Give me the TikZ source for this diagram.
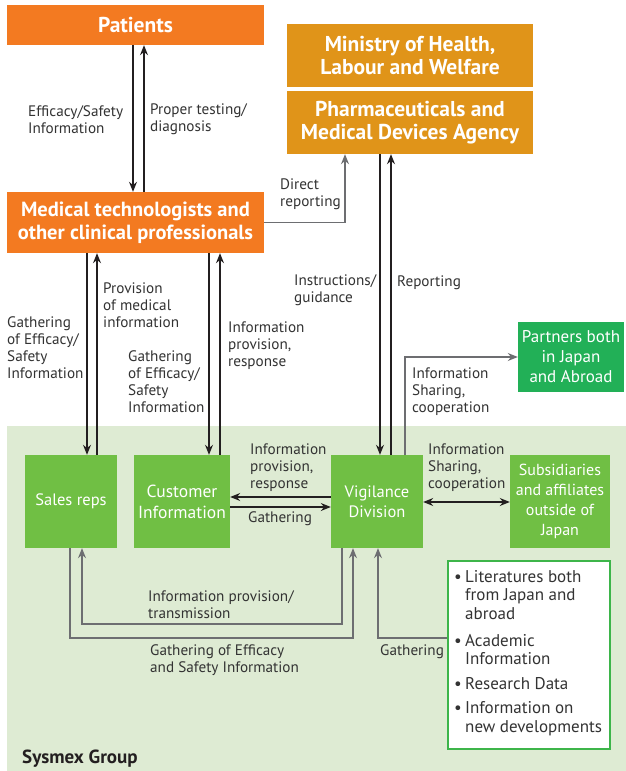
\documentclass[tikz,border=0pt]{standalone}
\usepackage{fontspec}
\setmainfont{PT Sans}
\usetikzlibrary{arrows.meta}
\definecolor{morange}{HTML}{F37A21}
\definecolor{mgold}{HTML}{E09419}
\definecolor{mgreen}{HTML}{70BF44}
\definecolor{pgreen}{HTML}{22B057}
\definecolor{bggreen}{HTML}{DEEBD3}
\definecolor{litborder}{HTML}{3DB54A}
\definecolor{tgray}{HTML}{333333}
\definecolor{ablack}{HTML}{231F20}
\definecolor{lgray}{HTML}{6D6E71}
\begin{document}
\begin{tikzpicture}[x=1pt,y=-1pt,
  titlebox/.style={text=white, font=\bfseries\fontsize{21.5}{23}\selectfont, inner sep=0pt, align=center},
  gbox/.style={fill=mgreen, text=white, font=\fontsize{16.5}{20}\selectfont, inner sep=0pt, align=center},
  lbl/.style={text=tgray, font=\fontsize{15.2}{17}\selectfont, align=left, inner sep=0pt, anchor=west},
  litlbl/.style={text=tgray, font=\fontsize{17}{18.5}\selectfont, align=left, inner sep=0pt, anchor=west},
  arr/.style={-{Stealth[length=10pt,width=8pt]}, line width=1.1pt, draw=ablack},
  garr/.style={-{Stealth[length=10pt,width=8pt]}, line width=1.1pt, draw=lgray},
  darr/.style={{Stealth[length=10pt,width=8pt]}-{Stealth[length=10pt,width=8pt]}, line width=1.1pt, draw=ablack}]
\useasboundingbox (0,0) rectangle (626,771);
\fill[white] (0,0) rectangle (626,771);
% background group
\node[fill=bggreen, minimum width=619pt, minimum height=345pt, inner sep=0pt] (grp) at (316.5,598.5) {};
% top boxes
\node[titlebox, fill=morange, minimum width=257pt, minimum height=40pt] (pat) at (135.5,25) {Patients};
\node[titlebox, fill=morange, font=\bfseries\fontsize{20.5}{23}\selectfont, minimum width=257pt, minimum height=61pt] (med) at (135.5,222.5) {Medical technologists and\\other clinical professionals};
\node[titlebox, fill=mgold, minimum width=246pt, minimum height=63pt] (min) at (410,55.5) {Ministry of Health,\\Labour and Welfare};
\node[titlebox, fill=mgold, minimum width=246pt, minimum height=63pt] (pmda) at (410,122.5) {Pharmaceuticals and\\Medical Devices Agency};
\node[fill=pgreen, text=white, font=\fontsize{17}{20}\selectfont, inner sep=0pt, align=center, minimum width=106pt, minimum height=70pt] (partners) at (571,357) {Partners both\\in Japan\\and Abroad};
% group boxes
\node[gbox, minimum width=92pt, minimum height=93pt] (sales) at (71,501.5) {Sales reps};
\node[gbox, font=\fontsize{17.5}{21}\selectfont, minimum width=96pt, minimum height=93pt] (cust) at (182,501.5) {Customer\\Information};
\node[gbox, minimum width=92pt, minimum height=93pt] (vig) at (377,501.5) {Vigilance\\Division};
\node[gbox, font=\fontsize{16}{20}\selectfont, minimum width=100pt, minimum height=93pt] (sub) at (560,501.5) {Subsidiaries\\and affiliates\\outside of\\Japan};
\node[fill=white, draw=litborder, line width=1.2pt, minimum width=162pt, minimum height=188pt, inner sep=0pt] (lit) at (529,655) {};
% column coordinates
\coordinate (c1) at (133,0);
\coordinate (c2) at (144,0);
\coordinate (c3) at (87,0);
\coordinate (c4) at (97,0);
\coordinate (c5) at (209,0);
\coordinate (c6) at (220,0);
\coordinate (c7) at (380,0);
\coordinate (c8) at (391,0);
\coordinate (c9) at (405,0);
\coordinate (c10) at (345,0);
\coordinate (c11) at (70,0);
\coordinate (c12) at (353,0);
\coordinate (c13) at (342,0);
\coordinate (c14) at (82,0);
\coordinate (c15) at (378,0);
\coordinate (r1) at (0,497);
\coordinate (r2) at (0,507);
\coordinate (r3) at (0,502);
\coordinate (r4) at (0,638);
\coordinate (r5) at (0,624);
% patients <-> medical
\draw[arr] (pat.south -| c1) -- (med.north -| c1);
\draw[arr] (med.north -| c2) -- (pat.south -| c2);
% medical -> pmda direct reporting
\draw[garr] (med.east) -| (pmda.south -| c10);
% pmda <-> vigilance
\draw[arr] (pmda.south -| c7) -- (vig.north -| c7);
\draw[arr] (vig.north -| c8) -- (pmda.south -| c8);
% vigilance -> partners
\draw[garr] (vig.north -| c9) |- (partners.west);
% medical <-> sales
\draw[arr] (med.south -| c3) -- (sales.north -| c3);
\draw[arr] (sales.north -| c4) -- (med.south -| c4);
% medical <-> customer
\draw[arr] (med.south -| c5) -- (cust.north -| c5);
\draw[arr] (cust.north -| c6) -- (med.south -| c6);
% customer <-> vigilance
\draw[arr] (vig.west |- r1) -- (cust.east |- r1);
\draw[arr] (cust.east |- r2) -- (vig.west |- r2);
% vigilance <-> subsidiaries
\draw[darr] (vig.east |- r3) -- (sub.west |- r3);
% bottom loops
\draw[garr] (sales.south -| c11) |- (r4 -| c12) -- (vig.south -| c12);
\draw[garr] (vig.south -| c13) |- (r5 -| c14) -- (sales.south -| c14);
\draw[garr] (lit.west |- r4) -| (vig.south -| c15);
% labels
\node[lbl] (l1) at (28,119.5) {Efficacy/Safety\\Information};
\node[lbl] (l2) at (150,119.5) {Proper testing/\\diagnosis};
\node[lbl] (l3) at (280,194) {Direct\\reporting};
\node[lbl] (l4) at (294,290.5) {Instructions/\\guidance};
\node[lbl] (l5) at (397,283) {Reporting};
\node[lbl] (l6) at (7,347.5) {Gathering\\of Efficacy/\\Safety\\Information};
\node[lbl] (l7) at (103,305) {Provision\\of medical\\information};
\node[lbl] (l8) at (128,381.5) {Gathering\\of Efficacy/\\Safety\\Information};
\node[lbl] (l9) at (228,345.5) {Information\\provision,\\response};
\node[lbl] (l10) at (412,392) {Information\\Sharing,\\cooperation};
\node[lbl] (l11) at (250,468) {Information\\provision,\\response};
\node[lbl] (l12) at (248,519) {Gathering};
\node[lbl] (l13) at (428,468) {Information\\Sharing,\\cooperation};
\node[lbl] (l14) at (148,604.5) {Information provision/\\transmission};
\node[lbl] (l15) at (150,660.5) {Gathering of Efficacy\\and Safety Information};
\node[lbl] (l16) at (380,652) {Gathering};
% literature list
\node[litlbl] (i1) at (454,595) {\makebox[11pt][l]{\textbullet}Literatures both\\\hspace*{11pt}from Japan and\\\hspace*{11pt}abroad};
\node[litlbl] (i2) at (454,649.5) {\makebox[11pt][l]{\textbullet}Academic\\\hspace*{11pt}Information};
\node[litlbl] (i3) at (454,684) {\makebox[11pt][l]{\textbullet}Research Data};
\node[litlbl] (i4) at (454,718.5) {\makebox[11pt][l]{\textbullet}Information on\\\hspace*{11pt}new developments};
\node[text=ablack, font=\bfseries\fontsize{19}{21}\selectfont, inner sep=0pt, anchor=west] (grpname) at (22,759) {Sysmex Group};
\end{tikzpicture}
\end{document}
